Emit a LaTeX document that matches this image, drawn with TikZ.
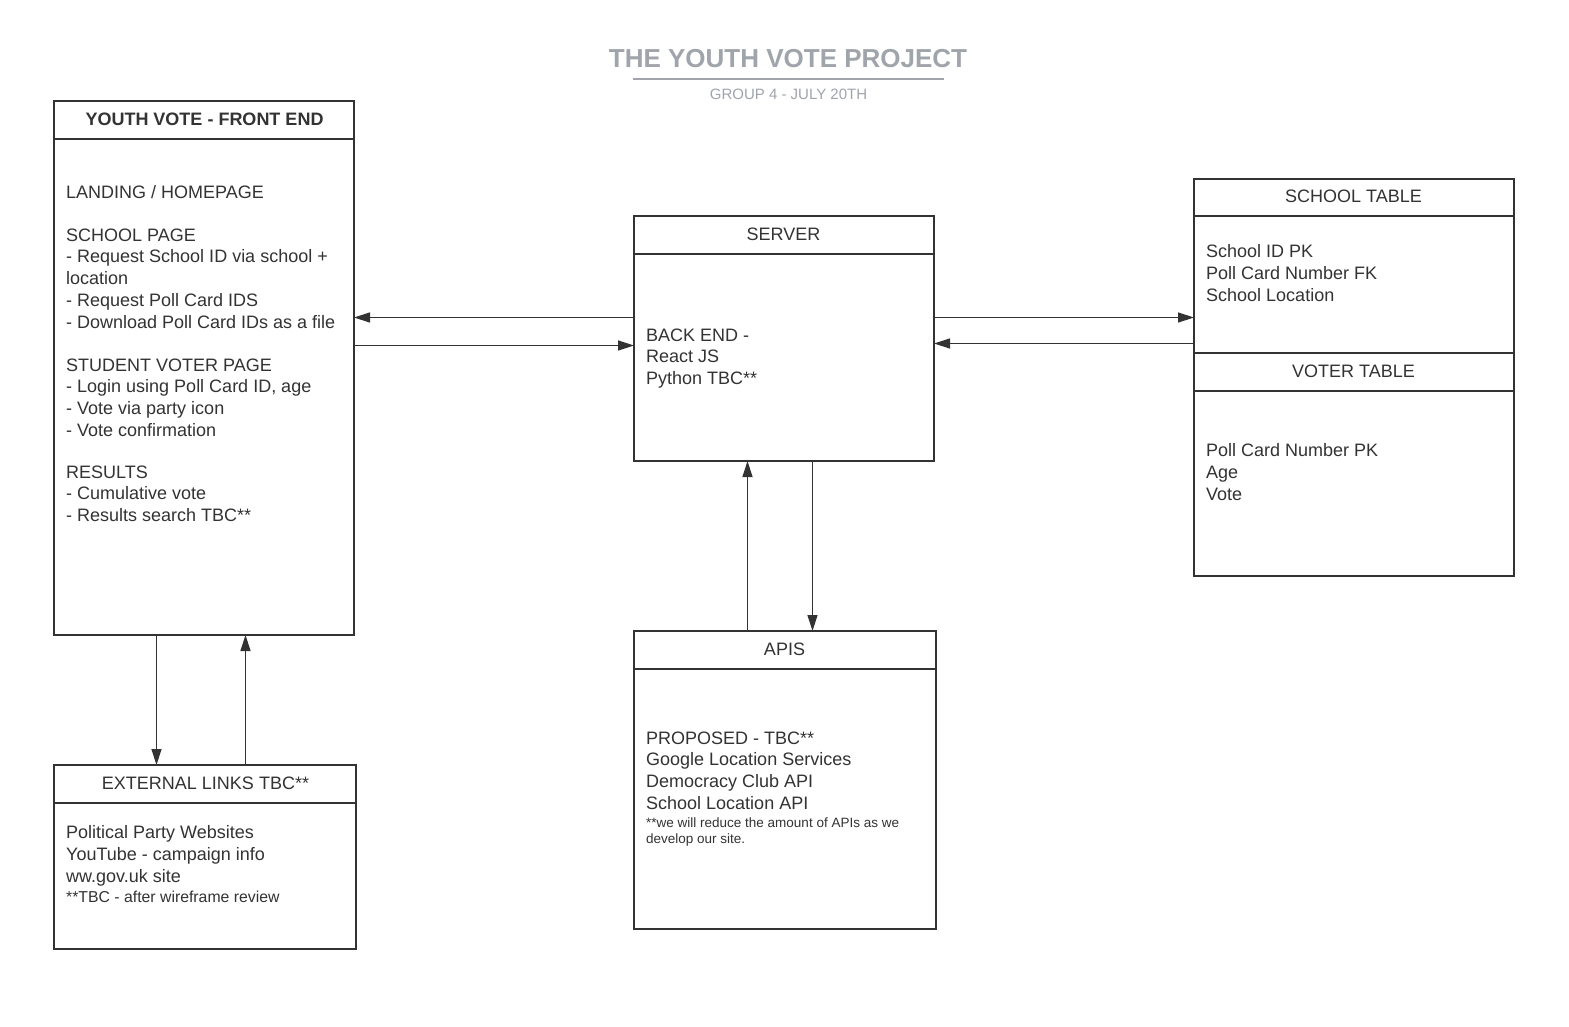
\documentclass[tikz,border=0pt]{standalone}
\usepackage{fontspec}
\setmainfont{Liberation Sans}
\usetikzlibrary{arrows.meta}
\definecolor{ink}{HTML}{333333}
\definecolor{ttl}{HTML}{A0A5AC}
\begin{document}
\begin{tikzpicture}[x=1pt,y=-1pt,
 box/.style={draw=ink, line width=2pt, anchor=north west, inner sep=0pt, outer sep=0pt},
 divider/.style={draw=ink, line width=2pt},
 hdr/.style={text=ink, font=\fontsize{18}{21.7}\selectfont, inner sep=0pt},
 body/.style={text=ink, font=\fontsize{18}{21.7}\selectfont, align=left, anchor=north west, inner sep=0pt},
 small/.style={text=ink, font=\fontsize{13.5}{16}\selectfont, align=left, anchor=north west, inner sep=0pt},
 arr/.style={draw=ink, line width=1.3pt, -{Triangle[length=16pt,width=10pt]}},
]
\useasboundingbox[fill=white] (0,0) rectangle (1569,1026);

% title
\node[text=ttl, font=\bfseries\fontsize{26}{30}\selectfont, inner sep=0pt] (title) at (788,58.5) {THE YOUTH VOTE PROJECT};
\draw[ttl, line width=2pt] (633,79) -- (944,79);
\node[text=ttl, font=\fontsize{15}{18}\selectfont, inner sep=0pt] (sub) at (788.5,94) {GROUP 4 - JULY 20TH};

% boxes
\node[box, minimum width=300pt, minimum height=534pt] (fe) at (54,101) {};
\draw[divider] (fe.west |- 0,139) -- (fe.east |- 0,139);
\node[hdr] (feh) at (204.5,119) {\bfseries YOUTH VOTE - FRONT END};

\node[box, minimum width=300pt, minimum height=245pt] (srv) at (634,216) {};
\draw[divider] (srv.west |- 0,254) -- (srv.east |- 0,254);
\node[hdr] (srvh) at (783.5,234) {SERVER};

\node[box, minimum width=320pt, minimum height=174pt] (sch) at (1194,179) {};
\draw[divider] (sch.west |- 0,216) -- (sch.east |- 0,216);
\node[hdr] (schh) at (1353.5,196) {SCHOOL TABLE};

\node[box, minimum width=320pt, minimum height=223pt] (vot) at (1194,353) {};
\draw[divider] (vot.west |- 0,391) -- (vot.east |- 0,391);
\node[hdr] (voth) at (1353.5,371) {VOTER TABLE};

\node[box, minimum width=302pt, minimum height=298pt] (api) at (634,631) {};
\draw[divider] (api.west |- 0,669) -- (api.east |- 0,669);
\node[hdr] (apih) at (784.5,649) {APIS};

\node[box, minimum width=302pt, minimum height=184pt] (ext) at (54,765) {};
\draw[divider] (ext.west |- 0,803) -- (ext.east |- 0,803);
\node[hdr] (exth) at (205.5,783) {EXTERNAL LINKS TBC**};

% body texts
\node[body] (fe1) at (66,185.5) {LANDING / HOMEPAGE};
\node[body] (fe2) at (66,228.5) {SCHOOL PAGE\\- Request School ID via school +\\location\\- Request Poll Card IDS\\- Download Poll Card IDs as a file};
\node[body] (fe3) at (66,358.5) {STUDENT VOTER PAGE\\- Login using Poll Card ID, age\\- Vote via party icon\\- Vote confirmation};
\node[body] (fe4) at (66,465.5) {RESULTS\\- Cumulative vote\\- Results search TBC**};

\node[body] (srvt) at (646,328.5) {BACK END -\\React JS\\Python TBC**};
\node[body] (scht) at (1206,244.5) {School ID PK\\Poll Card Number FK\\School Location};
\node[body] (vott) at (1206,443.5) {Poll Card Number PK\\Age\\Vote};
\node[body] (apit) at (646,731.5) {PROPOSED - TBC**\\Google Location Services\\Democracy Club API\\School Location API};
\node[small] (apis) at (646,818) {**we will reduce the amount of APIs as we\\develop our site.};
\node[body] (extt) at (66,825.5) {Political Party Websites\\YouTube - campaign info\\ww.gov.uk site};
\node[small, font=\fontsize{15.8}{18}\selectfont] (exts) at (66,891) {**TBC - after wireframe review};

% connectors
\draw[arr] (srv.west |- 0,317.5) -- (fe.east |- 0,317.5);
\draw[arr] (fe.east |- 0,345.5) -- (srv.west |- 0,345.5);
\draw[arr] (srv.east |- 0,317.5) -- (sch.west |- 0,317.5);
\draw[arr] (sch.west |- 0,343.5) -- (srv.east |- 0,343.5);
\draw[arr] (api.north -| 747.5,0) -- (srv.south -| 747.5,0);
\draw[arr] (srv.south -| 812.5,0) -- (api.north -| 812.5,0);
\draw[arr] (fe.south -| 156.5,0) -- (ext.north -| 156.5,0);
\draw[arr] (ext.north -| 245.5,0) -- (fe.south -| 245.5,0);
\end{tikzpicture}
\end{document}
